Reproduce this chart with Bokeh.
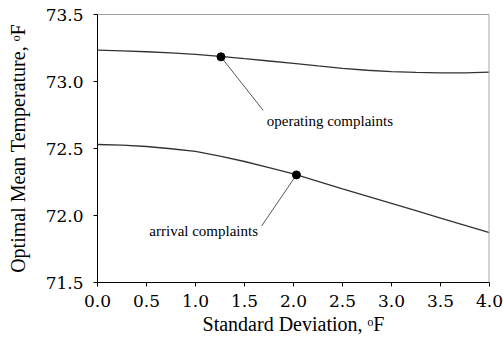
from bokeh.plotting import figure
from bokeh.models import Range1d, Span, Label, FixedTicker, PrintfTickFormatter, ColumnDataSource
from bokeh.embed import file_html
from bokeh.resources import INLINE

# Optimal mean temperature vs. standard deviation of the temperature
std_dev = [0.0, 0.25, 0.5, 0.75, 1.0, 1.25, 1.5, 1.75, 2.0,
           2.25, 2.5, 2.75, 3.0, 3.25, 3.5, 3.75, 4.0]
operating = [73.234, 73.229, 73.222, 73.213, 73.203, 73.188, 73.170, 73.153, 73.135,
             73.116, 73.098, 73.084, 73.074, 73.068, 73.064, 73.065, 73.070]
arrival = [72.530, 72.525, 72.515, 72.498, 72.478, 72.443, 72.403, 72.358, 72.311,
           72.255, 72.198, 72.144, 72.090, 72.036, 71.981, 71.927, 71.873]

# highlighted points on each curve
op_point = (1.26, 73.184)
ar_point = (2.03, 72.303)

x_ticks = [0.0, 0.5, 1.0, 1.5, 2.0, 2.5, 3.0, 3.5, 4.0]
y_ticks = [71.5, 72.0, 72.5, 73.0, 73.5]
x_lim = (0.0, 4.0)
y_lim = (71.5, 73.5)

FONT = "Liberation Serif"
TICK_FONT = "DejaVu Serif"

p = figure(width=503, height=347, output_backend="svg", toolbar_location=None,
           x_range=Range1d(*x_lim), y_range=Range1d(*y_lim),
           min_border_left=97, min_border_right=14, min_border_top=14, min_border_bottom=65)
p.outline_line_color = None
p.grid.visible = False
p.background_fill_color = "white"
p.border_fill_color = "white"

for ax in p.xaxis + p.yaxis:
    ax.axis_line_color = "black"
    ax.major_tick_line_color = "black"
    ax.major_tick_in = 0
    ax.major_tick_out = 4
    ax.minor_tick_line_color = None
    ax.major_label_text_font = TICK_FONT
    ax.major_label_text_font_size = "17px"
    ax.major_label_text_color = "black"
    ax.axis_label_text_font = FONT
    ax.axis_label_text_font_size = "20px"
    ax.axis_label_text_font_style = "normal"
    ax.axis_label_text_color = "black"
    ax.formatter = PrintfTickFormatter(format="%.1f")

p.xaxis.ticker = FixedTicker(ticks=x_ticks)
p.yaxis.ticker = FixedTicker(ticks=y_ticks)
p.xaxis.major_label_standoff = 8
p.yaxis.major_label_standoff = 10
p.xaxis.axis_label = "Standard Deviation, \u1d52F"
p.yaxis.axis_label = "Optimal Mean Temperature, \u1d52F"
p.xaxis.axis_label_standoff = 3
p.yaxis.axis_label_standoff = 14

# frame: dark top edge, light grey right edge
p.add_layout(Span(location=y_lim[1], dimension="width", line_color="#444444", line_width=1))
p.add_layout(Span(location=x_lim[1], dimension="height", line_color="#aaaaaa", line_width=2))

# curves
p.line(std_dev, operating, line_color="#333333", line_width=1.3)
p.line(std_dev, arrival, line_color="#333333", line_width=1.3)

# annotation leaders
op_text = (1.727, 72.702)
ar_text = (1.638, 71.886)
leaders = ColumnDataSource(dict(
    x0=[op_point[0], ar_point[0]], y0=[op_point[1], ar_point[1]],
    x1=[1.69, 1.676], y1=[72.785, 71.923]))
p.segment("x0", "y0", "x1", "y1", source=leaders, line_color="#555555", line_width=1)

p.scatter([op_point[0], ar_point[0]], [op_point[1], ar_point[1]],
          size=8, color="black")

p.add_layout(Label(x=op_text[0], y=op_text[1], text="operating complaints",
                   text_font=FONT, text_font_size="15px", text_color="black",
                   text_align="left", text_baseline="middle"))
p.add_layout(Label(x=ar_text[0], y=ar_text[1], text="arrival complaints",
                   text_font=FONT, text_font_size="15px", text_color="black",
                   text_align="right", text_baseline="middle"))

open("out.html", "w").write(file_html(p, INLINE))
